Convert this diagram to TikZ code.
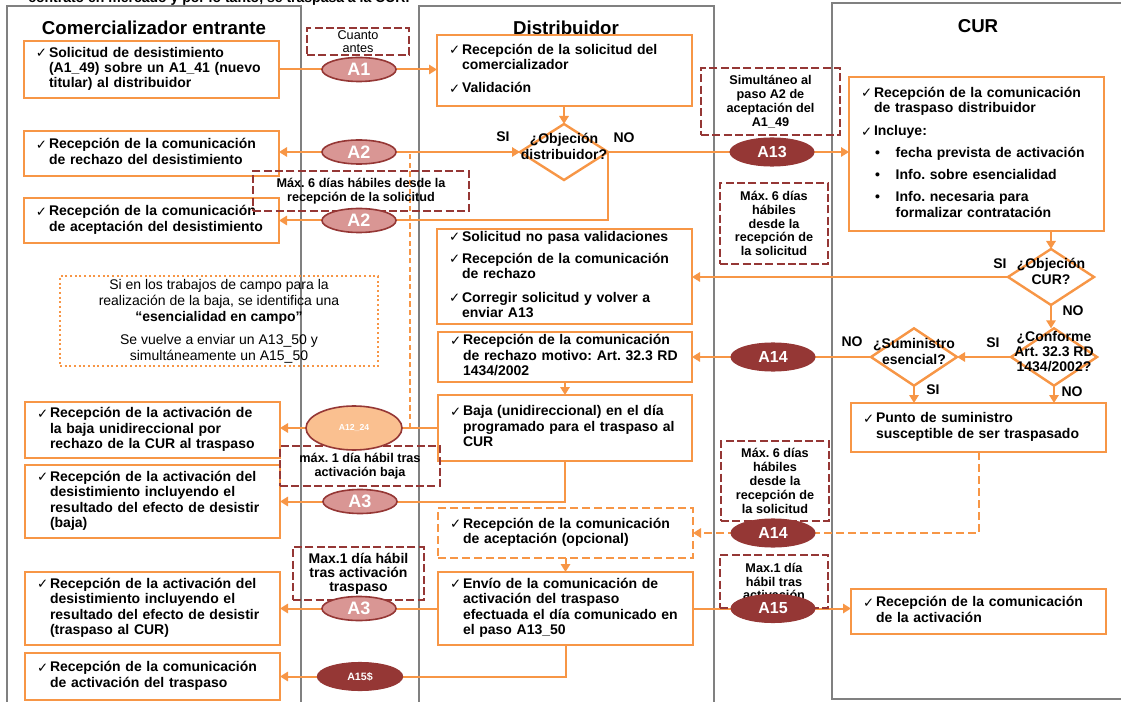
\documentclass[tikz,border=0pt]{standalone}
\usepackage{fontspec}
\setmainfont{Liberation Sans}
\newfontfamily\dejavu{DejaVu Sans}
\usetikzlibrary{shapes.geometric,arrows.meta}
\definecolor{orng}{HTML}{F79646}
\definecolor{dred}{HTML}{953735}
\definecolor{pinkred}{HTML}{D99694}
\definecolor{peach}{HTML}{FAC090}
\definecolor{lanegray}{HTML}{808080}
\pgfdeclarelayer{lanes}
\pgfdeclarelayer{conn}
\pgfsetlayers{lanes,conn,main}
\setlength{\parindent}{0pt}
\frenchspacing
\newcommand{\ck}[1]{\makebox[9.75pt][l]{\raisebox{-0.3pt}{\dejavu\mdseries\fontsize{10}{10}\selectfont ✓}}\begin{tabular}[t]{@{}l@{}}#1\end{tabular}}
\newcommand{\bl}[1]{\hspace*{10.5pt}\makebox[15.5pt][l]{•}\begin{tabular}[t]{@{}l@{}}#1\end{tabular}}
\newcommand{\itemgap}{\par\vspace{5pt}}
\newcommand{\dtx}[1]{\makebox[0pt]{\smash{\begin{tabular}{@{}c@{}}#1\end{tabular}}}}
\newcommand{\mkbox}[7]{%
  \pgfmathsetmacro{\bxw}{(#5-#3)*0.75}%
  \pgfmathsetmacro{\bxh}{(#6-#4)*0.75}%
  \pgfmathsetmacro{\bxt}{(#5-#3)*0.75-18}%
  \node[#1, anchor=north west, minimum width=\bxw pt, minimum height=\bxh pt, text width=\bxt pt] (#2) at (#3,#4) {#7};}
\newcommand{\mknote}[7]{%
  \pgfmathsetmacro{\bxw}{(#5-#3)*0.75}%
  \pgfmathsetmacro{\bxh}{(#6-#4)*0.75}%
  \node[#1, anchor=north west, minimum width=\bxw pt, minimum height=\bxh pt] (#2) at (#3,#4) {#7};}
\begin{document}
\begin{tikzpicture}[x=0.75pt,y=-0.75pt,
  lane/.style={draw=lanegray, line width=1.5pt},
  ttl/.style={font=\bfseries\fontsize{14}{16}\selectfont, inner sep=0pt},
  box/.style={draw=orng, line width=1.8pt, fill=white, inner xsep=9pt, inner ysep=1pt, align=left, outer sep=0pt, font=\bfseries\fontsize{10.5}{11.5}\selectfont},
  dbox/.style={box, dash pattern=on 6pt off 3pt},
  note/.style={draw=dred, line width=0.9pt, dash pattern=on 6pt off 2.5pt, align=center, inner sep=0pt, outer sep=0pt, font=\bfseries\fontsize{9.5}{10.4}\selectfont},
  dotnote/.style={draw=orng, line width=1.6pt, dash pattern=on 1.6pt off 1.9pt, align=center, inner sep=0pt, outer sep=0pt, font=\fontsize{10.5}{12}\selectfont},
  diam/.style={diamond, draw=orng, line width=1.8pt, fill=white, inner sep=0pt, outer sep=0pt, font=\bfseries\fontsize{10.5}{11.5}\selectfont},
  ell/.style={ellipse, inner sep=0pt, outer sep=0pt, text=white, font=\bfseries\fontsize{12}{12}\selectfont},
  lightell/.style={ell, fill=pinkred, draw=dred, line width=1.2pt, minimum width=55.5pt, minimum height=18pt, font=\bfseries\fontsize{13.5}{13.5}\selectfont},
  darkell/.style={ell, fill=dred, draw=dred, line width=0.8pt, minimum width=63pt, minimum height=21pt},
  arr/.style={draw=orng, line width=1.5pt, -{Triangle[length=6pt,width=7pt]}},
  yn/.style={font=\bfseries\fontsize{10.5}{12}\selectfont, inner sep=0pt}]
\useasboundingbox (0,0) rectangle (1121,702);
\begin{pgfonlayer}{lanes}
\draw[lane] (7,6) rectangle (301,712);
\draw[lane] (419,6) rectangle (714,712);
\draw[lane] (832,3) rectangle (1130,699);
\end{pgfonlayer}

\node[anchor=base west, font=\bfseries\fontsize{10.5}{12}\selectfont, inner sep=0pt] (toptxt) at (28,3) {contrato en mercado y por lo tanto, se traspasa a la CUR.};

\node[ttl] (t1) at (154,28) {Comercializador entrante};
\node[ttl] (t2) at (566,28) {Distribuidor};
\node[ttl] (t3) at (978,26) {CUR};

% Comercializador entrante
\mkbox{box}{B1}{24}{41}{279}{98}{\ck{Solicitud de desistimiento\\(A1\_49) sobre un A1\_41 (nuevo\\titular) al distribuidor}}
\mkbox{box}{B2}{24}{131}{279}{176}{\ck{Recepción de la comunicación\\de rechazo del desistimiento}}
\mkbox{box}{B3}{24}{198}{279}{243}{\ck{Recepción de la comunicación\\de aceptación del desistimiento}}
\mkbox{box}{B4}{25}{402}{280}{458}{\ck{Recepción de la activación de\\la baja unidireccional por\\rechazo de la CUR al traspaso}}
\mkbox{box}{B5}{25}{465}{280}{538}{\ck{Recepción de la activación del\\desistimiento incluyendo el\\resultado del efecto de desistir\\(baja)}}
\mkbox{box}{B6}{25}{572}{280}{645}{\ck{Recepción de la activación del\\desistimiento incluyendo el\\resultado del efecto de desistir\\(traspaso al CUR)}}
\mkbox{box}{B7}{25}{653}{280}{700}{\ck{Recepción de la comunicación\\de activación del traspaso}}

% Distribuidor
\mkbox{box}{D1}{437}{35}{692}{106}{\ck{Recepción de la solicitud del\\comercializador}\itemgap\ck{Validación}}
\mkbox{box}{D2}{437}{229}{692}{324}{\ck{Solicitud no pasa validaciones}\itemgap\ck{Recepción de la comunicación\\de rechazo}\itemgap\ck{Corregir solicitud y volver a\\enviar A13}}
\mkbox{box}{D3}{438}{332}{692}{382}{\ck{Recepción de la comunicación\\de rechazo motivo: Art. 32.3 RD\\1434/2002}}
\mkbox{box}{D4}{438}{395}{692}{461}{\ck{Baja (unidireccional) en el día\\programado para el traspaso al\\CUR}}
\mkbox{dbox}{D5}{438}{508}{693}{558}{\ck{Recepción de la comunicación\\de aceptación (opcional)}}
\mkbox{box}{D6}{438}{572}{693}{645}{\ck{Envío de la comunicación de\\activación del traspaso\\efectuada el día comunicado en\\el paso A13\_50}}

% CUR
\mkbox{box}{C1}{849}{77}{1104}{231}{\ck{Recepción de la comunicación\\de traspaso distribuidor}\itemgap\ck{Incluye:}\itemgap\bl{fecha prevista de activación}\itemgap\bl{Info. sobre esencialidad}\itemgap\bl{Info. necesaria para\\formalizar contratación}}
\mkbox{box}{C2}{851}{403}{1106}{452}{\ck{Punto de suministro\\susceptible de ser traspasado}}
\mkbox{box}{C3}{851}{589}{1106}{634}{\ck{Recepción de la comunicación\\de la activación}}

% diamonds
\node[diam, minimum width=66pt, minimum height=42pt] (dd) at (564,152) {\dtx{¿Objeción\\distribuidor?}};
\node[diam, minimum width=64.5pt, minimum height=42pt] (cd) at (1051,277) {\dtx{¿Objeción\\CUR?}};
\node[diam, minimum width=64.5pt, minimum height=43pt] (cf) at (1054,357) {\dtx{¿Conforme\\Art. 32.3 RD\\1434/2002?}};
\node[diam, minimum width=64.5pt, minimum height=43pt] (cs) at (914,357) {\dtx{¿Suministro\\esencial?}};

% SI / NO labels
\node[yn] (l1) at (503,137) {SI};
\node[yn] (l2) at (624,138) {NO};
\node[yn] (l3) at (1000,264) {SI};
\node[yn] (l4) at (1073,311) {NO};
\node[yn] (l5) at (993,343) {SI};
\node[yn] (l6) at (1072,392) {NO};
\node[yn] (l7) at (852,342) {NO};
\node[yn] (l8) at (933,390) {SI};

% notes
\mknote{note, font=\mdseries\fontsize{9.5}{10}\selectfont}{n1}{307}{28}{409}{55}{Cuanto\\antes}
\mknote{note}{n2}{701}{68}{840}{135}{Simultáneo al\\paso A2 de\\aceptación del\\A1\_49}
\mknote{note}{n3}{253}{171}{469}{211}{Máx. 6 días hábiles desde la\\recepción de la solicitud}
\mknote{note}{n4}{720}{183}{828}{264}{Máx. 6 días\\hábiles\\desde la\\recepción de\\la solicitud}
\mknote{note}{n5}{280}{446}{440}{486}{máx. 1 día hábil tras\\activación baja}
\mknote{note}{n6}{721}{441}{829}{521}{Máx. 6 días\\hábiles\\desde la\\recepción de\\la solicitud}
\mknote{note, font=\bfseries\fontsize{10.5}{10.6}\selectfont}{n7}{293}{547}{424}{600}{Max.1 día hábil\\tras activación\\traspaso}
\mknote{note}{n8}{720}{555}{828}{608}{Max.1 día\\hábil tras\\activación}
\mknote{dotnote}{nd}{60}{276}{378}{366}{Si en los trabajos de campo para la\\realización de la baja, se identifica una\\\textbf{“esencialidad en campo”}\\[5pt]Se vuelve a enviar un A13\_50 y\\simultáneamente un A15\_50}

% message ellipses
\node[lightell] (a1) at (359,0 |- B1.east) {A1};
\node[lightell] (a2a) at (359,0 |- dd.west) {A2};
\node[lightell] (a2b) at (359,0 |- B3.east) {A2};
\node[darkell] (a13) at (772,0 |- dd.east) {A13};
\node[darkell] (a14a) at (773,0 |- cs.west) {A14};
\node[ell, fill=peach, draw=dred, line width=1.2pt, minimum width=72pt, minimum height=33pt, font=\bfseries\fontsize{6.5}{7}\selectfont] (a12) at (354,0 |- D4.west) {A12\_24};
\node[lightell] (a3a) at (360,0 |- B5.east) {A3};
\node[lightell] (a3b) at (359,0 |- D6.west) {A3};
\node[darkell, font=\bfseries\fontsize{8}{9}\selectfont, minimum width=64pt] (a15s) at (360,0 |- B7.east) {A15\$};
\node[darkell] (a14b) at (773,0 |- D5.east) {A14};
\node[darkell] (a15) at (773,0 |- D6.east) {A15};

\coordinate (esc) at (410,0 |- D4.west);

\begin{pgfonlayer}{conn}
\draw[arr] (B1.east) -- (B1.east -| D1.west);
\draw[arr] (dd.north |- D1.south) -- (dd.north);
\draw[arr] (dd.west) -- (dd.west -| B2.east);
\draw[arr, dash pattern=on 4pt off 2.5pt] (esc) -- (esc |- dd.west) -- (dd.west);
\draw[arr] (dd.east) -- (dd.east -| C1.west);
\draw[arr] (dd.east) |- (B3.east);
\draw[arr] (cd.north |- C1.south) -- (cd.north);
\draw[arr] (cd.west) -- (cd.west -| D2.east);
\draw[arr] (cd.south) -- (cd.south |- cf.north);
\draw[arr] (cf.west) -- (cs.east);
\draw[arr] (cs.west) -- (cs.west -| D3.east);
\draw[arr] (cs.south) -- (cs.south |- C2.north);
\draw[arr] (cf.south) -- (cf.south |- C2.north);
\draw[arr] (D3.south) -- (D4.north);
\draw[arr] (D4.west) -- (D4.west -| B4.east);
\draw[arr] (D4.south) |- (B5.east);
\draw[arr, dash pattern=on 6pt off 3pt] (C2.south) |- (D5.east);
\draw[arr] (D5.south) -- (D6.north);
\draw[arr] (D6.east) -- (D6.east -| C3.west);
\draw[arr] (D6.west) -- (D6.west -| B6.east);
\draw[arr] (D6.south) |- (B7.east);
\end{pgfonlayer}
\end{tikzpicture}
\end{document}
